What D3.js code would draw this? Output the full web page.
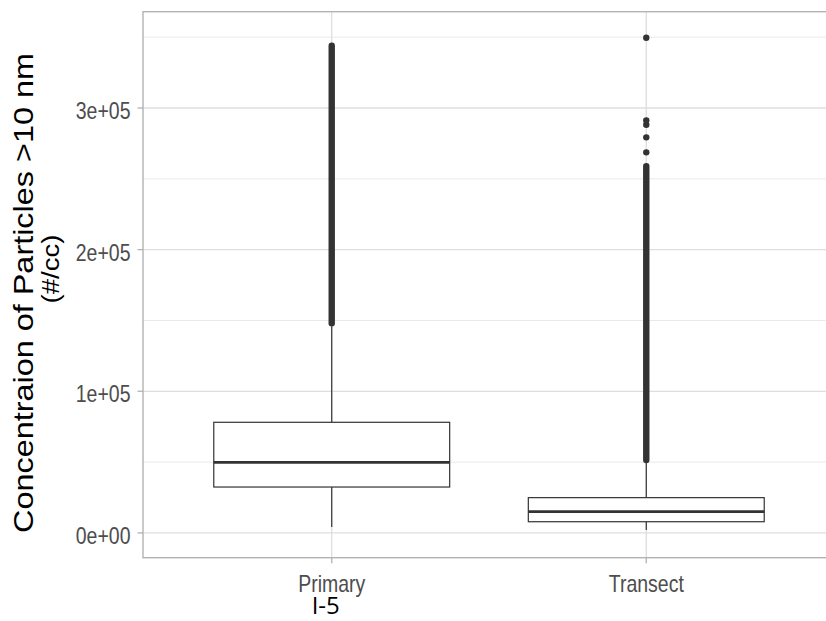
<!DOCTYPE html>
<html>
<head>
<meta charset="utf-8">
<script src="https://cdn.jsdelivr.net/npm/d3@7"></script>
<style>
  html, body { margin: 0; padding: 0; background: #fff; }
  svg { display: block; }
</style>
</head>
<body>
<div id="chart"></div>
<script>
// ---- data ----
const categories = ["Primary", "Transect"];
const whiskerLow = [4200, 2000];
const q1 = [32400, 7900];
const median = [49800, 15000];
const q3 = [78100, 24900];
const whiskerHigh = [146000, 49500];
// dense, overlapping columns of outliers (drawn as solid runs of points)
const denseOutlierLow = [148000, 51500];
const denseOutlierHigh = [344000, 259000];
// isolated outliers
const outlierCategory = ["Transect", "Transect", "Transect", "Transect", "Transect"];
const outlierValue = [268700, 279300, 288200, 291300, 349600];
// axis ticks
const majorTicks = [0, 100000, 200000, 300000];
const tickLabels = ["0e+00", "1e+05", "2e+05", "3e+05"];
const minorTicks = [50000, 150000, 250000, 350000];
const yDomain = [-17500, 368000];
const yTitleLines = ["Concentraion of Particles >10 nm", "(#/cc)"];
const subLabel = "I-5";

// ---- layout ----
const W = 826, H = 621;
const panel = { left: 143, right: 835, top: 11.7, bottom: 557.7 };

const svg = d3.select("#chart").append("svg")
  .attr("width", W).attr("height", H)
  .style("background", "#fff");

const x = d3.scaleLinear().domain([0.4, 2.6]).range([panel.left, panel.right]);
const xc = c => x(categories.indexOf(c) + 1);
const y = d3.scaleLinear().domain(yDomain).range([panel.bottom, panel.top]);

const font = "'Liberation Sans', Arial, Helvetica, sans-serif";

// grid
const g = svg.append("g");
g.selectAll("line.minor").data(minorTicks).join("line")
  .attr("x1", panel.left).attr("x2", panel.right)
  .attr("y1", d => y(d)).attr("y2", d => y(d))
  .attr("stroke", "#e9e9e9").attr("stroke-width", 1);
g.selectAll("line.major").data(majorTicks).join("line")
  .attr("x1", panel.left).attr("x2", panel.right)
  .attr("y1", d => y(d)).attr("y2", d => y(d))
  .attr("stroke", "#dedede").attr("stroke-width", 1.3);
g.selectAll("line.vmajor").data(categories).join("line")
  .attr("x1", d => xc(d)).attr("x2", d => xc(d))
  .attr("y1", panel.top).attr("y2", panel.bottom)
  .attr("stroke", "#dedede").attr("stroke-width", 1.3);

// boxplots
const bw = x(1.75) - x(1);
const box = svg.append("g");
categories.forEach((c, i) => {
  const cx = xc(c);
  box.append("line").attr("x1", cx).attr("x2", cx)
    .attr("y1", y(q3[i])).attr("y2", y(whiskerHigh[i]))
    .attr("stroke", "#333").attr("stroke-width", 1.2);
  box.append("line").attr("x1", cx).attr("x2", cx)
    .attr("y1", y(q1[i])).attr("y2", y(whiskerLow[i]))
    .attr("stroke", "#333").attr("stroke-width", 1.2);
  box.append("rect")
    .attr("x", cx - bw / 2).attr("width", bw)
    .attr("y", y(q3[i])).attr("height", y(q1[i]) - y(q3[i]))
    .attr("fill", "#fff").attr("stroke", "#333").attr("stroke-width", 1.2);
  box.append("line").attr("x1", cx - bw / 2).attr("x2", cx + bw / 2)
    .attr("y1", y(median[i])).attr("y2", y(median[i]))
    .attr("stroke", "#333").attr("stroke-width", 2.6);
  box.append("line").attr("x1", cx).attr("x2", cx)
    .attr("y1", y(denseOutlierLow[i])).attr("y2", y(denseOutlierHigh[i]))
    .attr("stroke", "#333").attr("stroke-width", 6.4).attr("stroke-linecap", "round");
});
box.selectAll("circle").data(outlierValue).join("circle")
  .attr("cx", (d, i) => xc(outlierCategory[i]))
  .attr("cy", d => y(d))
  .attr("r", 3.2).attr("fill", "#333");

// panel border
svg.append("rect")
  .attr("x", panel.left).attr("y", panel.top)
  .attr("width", panel.right - panel.left).attr("height", panel.bottom - panel.top)
  .attr("fill", "none").attr("stroke", "#b3b3b3").attr("stroke-width", 1.4);

// y axis ticks and labels
const ya = svg.append("g");
ya.selectAll("line").data(majorTicks).join("line")
  .attr("x1", panel.left - 5.5).attr("x2", panel.left)
  .attr("y1", d => y(d)).attr("y2", d => y(d))
  .attr("stroke", "#b3b3b3").attr("stroke-width", 1.3);
ya.selectAll("text").data(majorTicks).join("text")
  .attr("transform", d => `translate(130.5,${y(d) + 10.9}) scale(1,1.2)`)
  .attr("text-anchor", "end")
  .attr("font-family", font).attr("font-size", 19.5)
  .attr("fill", "#4d4d4d")
  .text((d, i) => tickLabels[i]);

// x axis ticks and labels
const xa = svg.append("g");
xa.selectAll("line").data(categories).join("line")
  .attr("x1", d => xc(d)).attr("x2", d => xc(d))
  .attr("y1", panel.bottom).attr("y2", panel.bottom + 5.5)
  .attr("stroke", "#b3b3b3").attr("stroke-width", 1.3);
xa.selectAll("text").data(categories).join("text")
  .attr("transform", d => `translate(${xc(d)},592) scale(1,1.2)`)
  .attr("text-anchor", "middle")
  .attr("font-family", font).attr("font-size", 19.5)
  .attr("fill", "#4d4d4d")
  .text(d => d);

// sub label under Primary
svg.append("text")
  .attr("x", xc("Primary") - 6).attr("y", 614)
  .attr("text-anchor", "middle")
  .attr("font-family", "'Open Sans', 'Noto Sans', sans-serif").attr("font-size", 24)
  .attr("fill", "#000")
  .text(subLabel);

// y title (two lines)
svg.append("text")
  .attr("transform", "translate(32.5,293) rotate(-90) scale(1.2,1)")
  .attr("text-anchor", "middle")
  .attr("font-family", font).attr("font-size", 27)
  .attr("fill", "#000")
  .text(yTitleLines[0]);
svg.append("text")
  .attr("transform", "translate(58.5,269) rotate(-90) scale(1.15,1)")
  .attr("text-anchor", "middle")
  .attr("font-family", font).attr("font-size", 24)
  .attr("fill", "#000")
  .text(yTitleLines[1]);
</script>
</body>
</html>
